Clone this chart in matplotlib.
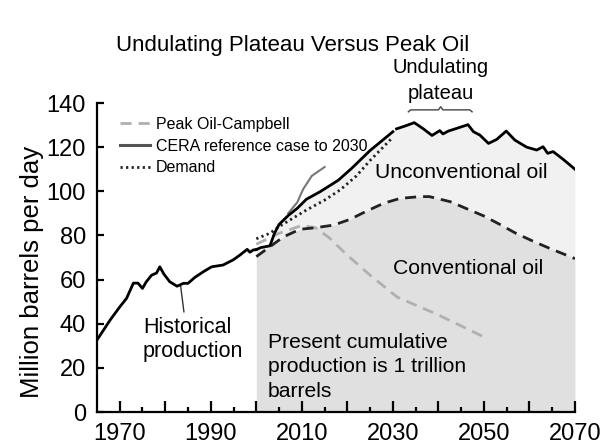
import matplotlib.pyplot as plt
import numpy as np

plt.rcParams['font.family'] = ['Liberation Sans', 'DejaVu Sans']

# Historical production (million barrels per day)
hist_years = [1965, 1967.9, 1970, 1971.5, 1973, 1974, 1975, 1975.8, 1977, 1978.1, 1978.8,
              1979.7, 1981, 1982.6, 1984, 1985, 1986.5, 1988.4, 1990.2, 1992.7, 1994.9,
              1996.4, 1998, 1998.6, 1999.3, 2000]
hist_vals = [32.6, 41.7, 47.6, 51.5, 58.4, 58.4, 56, 58.9, 62, 63, 65.8,
             62.5, 59, 57, 58.3, 58.3, 61, 63.6, 65.8, 66.6, 68.9,
             71.1, 73.7, 72.4, 73.4, 73.6]

# CERA reference case to 2030
cera_years = [2000, 2001, 2003, 2004, 2005, 2007, 2009, 2011, 2014, 2018, 2021, 2025, 2030]
cera_vals = [73.6, 74.5, 75.3, 81, 85, 89, 92.3, 96.4, 99.8, 105, 110.5, 118.5, 127]

# Undulating plateau (total liquids capacity)
plat_years = [2030.8, 2032.7, 2034.7, 2036.7, 2038.6, 2040.3, 2041, 2042.2, 2044, 2046.5,
              2047.7, 2049.1, 2051, 2052.8, 2054.9, 2056.8, 2059.4, 2061.6, 2063, 2064,
              2065.2, 2067.4, 2070]
plat_vals = [128.3, 129.6, 131.1, 128.3, 125.3, 127.5, 126, 127.3, 128.5, 130.2,
             127, 125.5, 121.7, 123.5, 127.3, 123.2, 120, 118.7, 120.2, 117.2,
             118, 114.5, 110]

# Conventional oil
conv_years = [2000, 2003, 2006, 2009.6, 2013, 2017, 2020.6, 2024, 2028, 2031.6, 2036,
              2038, 2042.6, 2046, 2050, 2053.5, 2057, 2061, 2064.5, 2070]
conv_vals = [70.4, 74.9, 79.4, 82.8, 83.5, 84.7, 87.3, 90.8, 94.6, 96.8, 97.6,
             97.6, 95.3, 92.3, 88.8, 85, 81, 77.2, 74.1, 69.5]

# Peak Oil - Campbell
camp_years = [2000, 2005, 2010, 2013, 2016, 2020, 2025, 2031, 2040, 2050]
camp_vals = [76, 81, 84.5, 83.5, 79, 71, 62, 52, 44, 34]

# Demand
dem_years = [2000, 2003, 2005, 2011, 2015, 2018.4, 2022, 2025, 2030]
dem_vals = [78.5, 81, 84, 91.5, 96, 100.6, 107, 114, 124.5]

# thin grey forecast
grey_years = [2007, 2009, 2010.3, 2012.2, 2015]
grey_vals = [90, 95, 101, 107, 111]

fig = plt.figure(figsize=(6.06, 4.46), dpi=100)
ax = fig.add_axes([0.16, 0.0762, 0.7888, 0.6928])

# shaded areas
xs = np.linspace(2000, 2070, 701)
top = np.interp(xs, cera_years + plat_years, cera_vals + plat_vals)
conv = np.interp(xs, conv_years, conv_vals)
ax.fill_between(xs, conv, top, color='#f1f1f1', lw=0, zorder=1)
ax.fill_between(xs, 0, conv, color='#e0e0e0', lw=0, zorder=1)

ax.plot(hist_years, hist_vals, color='black', lw=2, zorder=5)
ax.plot(cera_years, cera_vals, color='black', lw=2, zorder=5)
ax.plot(plat_years, plat_vals, color='black', lw=2, zorder=5)
ax.plot(conv_years, conv_vals, color='#222222', lw=2, ls=(0, (4, 2.5)), zorder=4)
ax.plot(camp_years, camp_vals, color='#b0b0b0', lw=2, ls=(0, (4, 2.5)), zorder=3)
ax.plot(dem_years, dem_vals, color='#222222', lw=2, ls=(0, (0.8, 1.2)), zorder=4)
ax.plot(grey_years, grey_vals, color='#777777', lw=1.5, zorder=4)

ax.set_xlim(1965, 2070)
ax.set_ylim(0, 140)

for side in ['top', 'right']:
    ax.spines[side].set_visible(False)
for side in ['left', 'bottom']:
    ax.spines[side].set_linewidth(1.6)

ax.set_xticks(range(1970, 2071, 10))
ax.set_xticklabels([str(y) if (y - 1970) % 20 == 0 else '' for y in range(1970, 2071, 10)])
ax.set_xticks(range(1975, 2070, 10), minor=True)
ax.set_yticks(range(0, 141, 20))
ax.tick_params(axis='x', which='major', direction='in', length=8, width=1.6, pad=8, labelsize=17)
ax.tick_params(axis='x', which='minor', direction='in', length=3.5, width=1.6)
ax.tick_params(axis='y', direction='in', length=5, width=1.6, pad=8, labelsize=17)

fig.text(293 / 606, 1 - 45 / 446, 'Undulating Plateau Versus Peak Oil', ha='center', va='center', fontsize=16)
fig.text(32 / 606, 1 - 272 / 446, 'Million barrels per day', ha='center', va='center', rotation=90, fontsize=18.5)

# annotations
ax.text(2040.5, 155.9, 'Undulating', ha='center', va='center', fontsize=14.5, clip_on=False)
ax.text(2040.5, 144.5, 'plateau', ha='center', va='center', fontsize=14.5, clip_on=False)
ax.plot([2033.4, 2033.9, 2040.0, 2040.5, 2041.0, 2046.9, 2047.4],
        [136.0, 136.9, 136.9, 138.3, 136.9, 136.9, 136.0], color='#444444', lw=1, clip_on=False)
ax.text(2045.1, 108.3, 'Unconventional oil', ha='center', va='center', fontsize=15.2, zorder=6)
ax.text(2046.5, 65.2, 'Conventional oil', ha='center', va='center', fontsize=15.2, zorder=6)
ax.text(1975.1, 38.5, 'Historical', ha='left', va='center', fontsize=15.5)
ax.text(1975.1, 27.2, 'production', ha='left', va='center', fontsize=15.5)
ax.plot([1983.4, 1984.1], [56.8, 45.4], color='#333333', lw=1)
ax.text(2002.6, 31.7, 'Present cumulative', ha='left', va='center', fontsize=15.2, zorder=6)
ax.text(2002.6, 20.4, 'production is 1 trillion', ha='left', va='center', fontsize=15.2, zorder=6)
ax.text(2002.6, 9.1, 'barrels', ha='left', va='center', fontsize=15.2, zorder=6)

handles = [
    plt.Line2D([], [], color='#b0b0b0', lw=2, ls=(0, (4, 2.5))),
    plt.Line2D([], [], color='#555555', lw=2.2),
    plt.Line2D([], [], color='#222222', lw=2, ls=(0, (0.8, 1.2))),
]
labels = ['Peak Oil-Campbell', 'CERA reference case to 2030', 'Demand']
ax.legend(handles, labels, loc='upper left', bbox_to_anchor=(0.048, 0.955), frameon=False,
          fontsize=11.5, handlelength=1.9, handletextpad=0.35, labelspacing=0.42,
          borderpad=0, borderaxespad=0)

fig.savefig('out.png', dpi=100)
